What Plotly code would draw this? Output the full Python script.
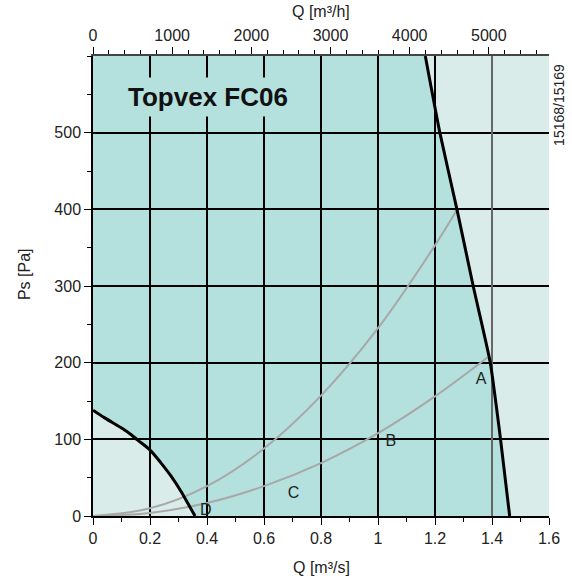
import plotly.graph_objects as go

# ---- data ----
# Fan curve (max) [m3/s, Pa]
fan_q = [1.166, 1.217, 1.277, 1.334, 1.394, 1.430, 1.462]
fan_p = [600, 500, 400, 300, 200, 100, 0]
# Minimum curve D
min_q = [0.0, 0.041, 0.099, 0.134, 0.157, 0.2, 0.239, 0.274, 0.309, 0.338, 0.358]
min_p = [138, 128, 115, 106, 99, 86, 69, 52, 32, 13, 0]
# System curves (grey)
sys1_q = [0.0, 0.2, 0.4, 0.6, 0.8, 1.0, 1.2, 1.278]
sys1_p = [0, 10, 39, 88, 157, 245, 353, 400]
sys2_q = [0.0, 0.2, 0.4, 0.6, 0.8, 1.0, 1.2, 1.385]
sys2_p = [0, 4, 17, 39, 69, 108, 156, 207]
# Point labels
label_text = ["A", "B", "C", "D"]
label_q = [1.362, 1.045, 0.704, 0.396]
label_p = [177, 96, 29, 6]
# Axes
x_ticks = [0, 0.2, 0.4, 0.6, 0.8, 1.0, 1.2, 1.4, 1.6]
x_ticktext = ["0", "0.2", "0.4", "0.6", "0.8", "1", "1.2", "1.4", "1.6"]
y_ticks = [0, 100, 200, 300, 400, 500]
top_ticks = [0, 1000, 2000, 3000, 4000, 5000]
X_MAX = 1.6
Y_MAX = 600

DARK = "rgb(180,224,221)"
LIGHT = "rgb(218,236,234)"
FONT = "Arial, Liberation Sans, sans-serif"

# operating area polygon (built from the curves)
poly_q = list(min_q) + list(reversed(fan_q)) + [0]
poly_p = list(min_p) + list(reversed(fan_p)) + [Y_MAX]
path = "M " + " L ".join(f"{q},{p}" for q, p in zip(poly_q, poly_p)) + " Z"

fig = go.Figure()

fig.add_trace(go.Scatter(x=sys1_q, y=sys1_p, mode="lines", line=dict(color="#a8a8a8", width=2, shape="spline"),
                         hoverinfo="skip", showlegend=False))
fig.add_trace(go.Scatter(x=sys2_q, y=sys2_p, mode="lines", line=dict(color="#a8a8a8", width=2, shape="spline"),
                         hoverinfo="skip", showlegend=False))
fig.add_trace(go.Scatter(x=fan_q, y=fan_p, mode="lines", line=dict(color="black", width=3, shape="spline", smoothing=0.5),
                         hoverinfo="skip", showlegend=False))
fig.add_trace(go.Scatter(x=min_q, y=min_p, mode="lines", line=dict(color="black", width=3, shape="spline"),
                         hoverinfo="skip", showlegend=False))
fig.add_trace(go.Scatter(x=label_q, y=label_p, mode="text", text=label_text,
                         textfont=dict(family=FONT, size=16, color="#222"),
                         hoverinfo="skip", showlegend=False))
# dummy traces to register the helper axes
for ax in ["x2", "x3", "x4"]:
    fig.add_trace(go.Scatter(x=[None], y=[None], xaxis=ax, yaxis="y", showlegend=False, hoverinfo="skip"))

fig.add_shape(type="path", path=path, xref="x", yref="y", fillcolor=DARK, line=dict(width=0), layer="below")

tickfont = dict(family=FONT, size=16, color="#222")

fig.update_layout(
    width=572, height=581,
    margin=dict(l=93, r=19, t=56, b=65),
    paper_bgcolor="white",
    plot_bgcolor=LIGHT,
    font=dict(family=FONT, color="#222"),
    showlegend=False,
    xaxis=dict(range=[0, X_MAX], tickvals=x_ticks, ticktext=x_ticktext, ticks="outside", ticklen=7,
               tickcolor="black", tickwidth=1.3, showline=True, linecolor="black", linewidth=1.5,
               showgrid=False, zeroline=False, tickfont=tickfont,
               minor=dict(dtick=0.1, tick0=0, ticks="outside", ticklen=4, tickcolor="black", showgrid=False)),
    yaxis=dict(range=[0, Y_MAX], tickvals=y_ticks, ticks="outside", ticklen=7, tickcolor="black", tickwidth=1.3,
               showline=True, linecolor="black", linewidth=1.5, showgrid=True, gridcolor="black", gridwidth=1.5,
               zeroline=False, tickfont=tickfont,
               minor=dict(dtick=50, tick0=0, ticks="outside", ticklen=4, tickcolor="black", showgrid=False)),
    xaxis2=dict(overlaying="x", side="top", anchor="y", range=[0, X_MAX * 3600], tickvals=top_ticks,
                ticks="outside", ticklen=7, tickcolor="black", tickwidth=1.3, showline=True,
                linecolor="#444", linewidth=1.5, showgrid=False, zeroline=False, tickfont=tickfont,
                minor=dict(dtick=200, tick0=0, ticks="outside", ticklen=4, tickcolor="black", showgrid=False)),
    xaxis3=dict(overlaying="x", anchor="y", range=[0, X_MAX], tickvals=[0.2, 0.4, 0.6, 0.8, 1.0, 1.2],
                showticklabels=False, ticks="", showline=False, showgrid=True, gridcolor="black",
                gridwidth=1.5, zeroline=False),
    xaxis4=dict(overlaying="x", anchor="y", range=[0, X_MAX], tickvals=[1.4, 1.6],
                showticklabels=False, ticks="", showline=False, showgrid=True, gridcolor="#666",
                gridwidth=1.5, zeroline=False),
)

annotations = [
    dict(text="<b>Topvex FC06</b>", x=0.405, y=546, xref="x", yref="y", showarrow=False,
         xanchor="center", yanchor="middle",
         font=dict(family=FONT, size=26, color="#111"), bgcolor=DARK, borderpad=4),
    dict(text="Q [m³/s]", x=0.5, y=-0.113, xref="paper", yref="paper", showarrow=False,
         xanchor="center", yanchor="middle", font=dict(family=FONT, size=16, color="#222")),
    dict(text="Q [m³/h]", x=0.5, y=1.0957, xref="paper", yref="paper", showarrow=False,
         xanchor="center", yanchor="middle", font=dict(family=FONT, size=16, color="#222")),
    dict(text="Ps [Pa]", x=-0.15, y=0.525, xref="paper", yref="paper", showarrow=False, textangle=-90,
         xanchor="center", yanchor="middle", font=dict(family=FONT, size=16, color="#222")),
    dict(text="15168/15169", x=1.0217, y=0.8935, xref="paper", yref="paper", showarrow=False, textangle=-90,
         xanchor="center", yanchor="middle", font=dict(family=FONT, size=14, color="#222")),
]
fig.update_layout(annotations=annotations)

# remove the default page margin so the figure fills the window exactly
fig.write_html("out.html", config={"displayModeBar": False},
               post_script="document.body.style.margin='0px';")
